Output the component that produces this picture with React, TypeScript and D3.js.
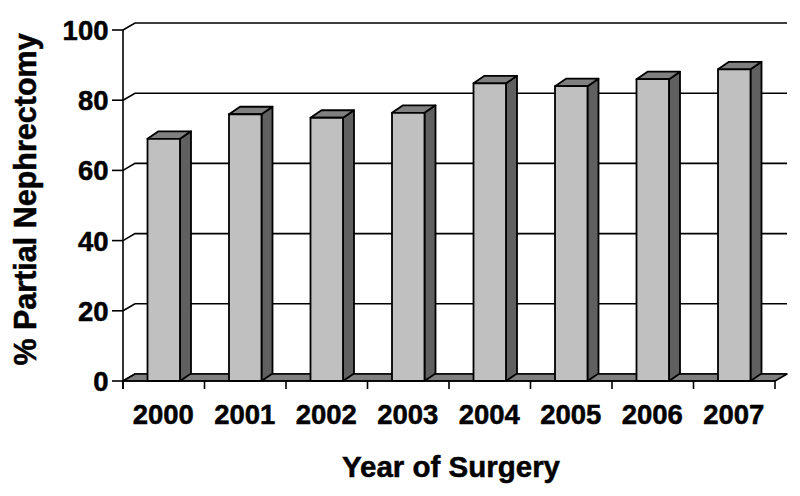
import React from "react";
import * as d3 from "d3";

const years = ["2000", "2001", "2002", "2003", "2004", "2005", "2006", "2007"];
const values = [69, 76, 75, 76.4, 84.8, 84, 86, 88.8];
const yTicks = [0, 20, 40, 60, 80, 100];

const W = 800;
const H = 496;
const left = 123;
const right = 775;
const bottom = 381;
const top = 30;
const wallDx = 12;
const wallDy = -7;
const barDx = 11;
const barDy = -7.5;
const barW = 32.5;
const font = "'Liberation Sans', Arial, Helvetica, sans-serif";

export default function App() {
  const x = d3.scaleBand<string>().domain(years).range([left, right]).padding(0);
  const y = d3.scaleLinear().domain([0, 100]).range([bottom, top]);
  const y0 = y(0);

  const floor = `M${left},${y0} L${right},${y0} L${right + wallDx},${y0 + wallDy} L${left + wallDx},${y0 + wallDy} Z`;
  const textStroke = { stroke: "#000", strokeWidth: 0.5 };

  return (
    <svg
      width={W}
      height={H}
      style={{ position: "absolute", left: 0, top: 0, background: "#fff" }}
      fontFamily={font}
    >
      <rect x={0} y={0} width={W} height={H} fill="#fff" />
      {yTicks.map((t) => {
        const yy = y(t);
        return (
          <g key={t}>
            <path
              d={`M${left},${yy} L${left + wallDx},${yy + wallDy} L${right + wallDx},${yy + wallDy}`}
              fill="none"
              stroke="#000"
              strokeWidth={1.6}
            />
            <line x1={left - 11} x2={left} y1={yy} y2={yy} stroke="#000" strokeWidth={1.6} />
            <text
              x={108.5}
              y={yy + 10}
              textAnchor="end"
              fontSize={27.5}
              fontWeight="bold"
              fill="#000"
              {...textStroke}
            >
              {t}
            </text>
          </g>
        );
      })}
      <path d={floor} fill="#808080" stroke="#000" strokeWidth={1.6} strokeLinejoin="round" />
      <line x1={left} x2={left} y1={y(100)} y2={y0 + 8} stroke="#000" strokeWidth={1.6} />
      <line x1={left} x2={right} y1={y0} y2={y0} stroke="#000" strokeWidth={1.6} />
      {[...years.map((c) => x(c) as number), right].map((tx, i) => (
        <line key={i} x1={tx} x2={tx} y1={y0} y2={y0 + 8} stroke="#000" strokeWidth={1.6} />
      ))}
      {years.map((c, i) => {
        const cx = (x(c) as number) + x.bandwidth() / 2;
        const x0 = cx - barW / 2;
        const x1 = cx + barW / 2;
        const yt = y(values[i]);
        const front = `M${x0},${y0} L${x0},${yt} L${x1},${yt} L${x1},${y0} Z`;
        const topFace = `M${x0},${yt} L${x0 + barDx},${yt + barDy} L${x1 + barDx},${yt + barDy} L${x1},${yt} Z`;
        const side = `M${x1},${y0} L${x1},${yt} L${x1 + barDx},${yt + barDy} L${x1 + barDx},${y0 + barDy} Z`;
        return (
          <g key={c} stroke="#000" strokeWidth={1.8} strokeLinejoin="round">
            <path d={side} fill="#606060" />
            <path d={topFace} fill="#808080" />
            <path d={front} fill="#c0c0c0" />
          </g>
        );
      })}
      {years.map((c) => (
        <text
          key={c}
          x={(x(c) as number) + x.bandwidth() / 2 - 0.5}
          y={424}
          textAnchor="middle"
          fontSize={27.5}
          fontWeight="bold"
          fill="#000"
          {...textStroke}
        >
          {c}
        </text>
      ))}
      <text
        x={451}
        y={476.5}
        textAnchor="middle"
        fontSize={29.5}
        fontWeight="bold"
        fill="#000"
        {...textStroke}
      >
        Year of Surgery
      </text>
      <text
        transform="translate(35.5,199.5) rotate(-90)"
        textAnchor="middle"
        fontSize={30.5}
        fontWeight="bold"
        fill="#000"
        {...textStroke}
      >
        % Partial Nephrectomy
      </text>
    </svg>
  );
}
